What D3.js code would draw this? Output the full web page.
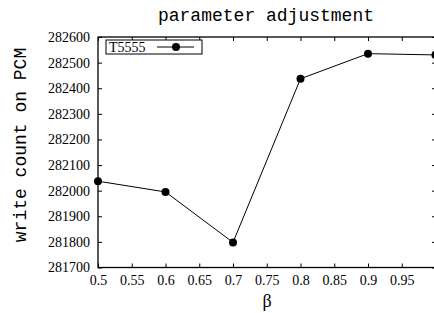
<!DOCTYPE html>
<html>
<head>
<meta charset="utf-8">
<script src="https://cdn.jsdelivr.net/npm/d3@7"></script>
<style>
  body { margin: 0; background: #fff; }
  svg { display: block; }
</style>
</head>
<body>
<svg id="chart" width="434" height="313"></svg>
<script>
// values
var betas = [0.5, 0.6, 0.7, 0.8, 0.9, 1.0];
var writes = [282037, 281995, 281798, 282437, 282535, 282530];
var xTicks = [0.5, 0.55, 0.6, 0.65, 0.7, 0.75, 0.8, 0.85, 0.9, 0.95];
var yTicks = [281700, 281800, 281900, 282000, 282100, 282200, 282300, 282400, 282500, 282600];
var seriesName = "T5555";

var plotL = 98, plotR = 436, plotT = 37, plotB = 267.5;

var svg = d3.select("#chart");

var x = d3.scaleLinear().domain([0.5, 1]).range([plotL, plotR - 0.5]);
var y = d3.scaleLinear().domain([281700, 282600]).range([plotB, plotT]);

var serif = "'Liberation Serif', 'Times New Roman', serif";
var mono = "'Liberation Mono', 'Courier New', monospace";

function styleAxis(g) {
    g.select(".domain").remove();
    g.selectAll("line").attr("stroke", "#000").attr("stroke-width", 1);
    g.selectAll("text").attr("fill", "#000").style("font-family", serif).style("font-size", "14px");
}

// ticks pointing inwards, gnuplot style
svg.append("g")
    .attr("transform", "translate(" + plotL + ",0)")
    .call(d3.axisLeft(y).tickValues(yTicks).tickSize(-4).tickPadding(8).tickFormat(d3.format("d")))
    .call(styleAxis);

svg.append("g")
    .attr("transform", "translate(0," + plotB + ")")
    .call(d3.axisBottom(x).tickValues(xTicks).tickSize(-4).tickPadding(8).tickFormat(function (d) { return String(d); }))
    .call(styleAxis);

// mirrored ticks
svg.append("g")
    .attr("transform", "translate(" + plotR + ",0)")
    .call(d3.axisRight(y).tickValues(yTicks).tickSize(-4).tickFormat(""))
    .call(styleAxis);

svg.append("g")
    .attr("transform", "translate(0," + plotT + ")")
    .call(d3.axisTop(x).tickValues(xTicks).tickSize(-4).tickFormat(""))
    .call(styleAxis);

svg.append("rect")
    .attr("x", plotL).attr("y", plotT)
    .attr("width", plotR - plotL).attr("height", plotB - plotT)
    .attr("fill", "none").attr("stroke", "#000").attr("stroke-width", 1.3);

var pts = betas.map(function (b, i) { return [b, writes[i]]; });

var line = d3.line()
    .x(function (d) { return x(d[0]); })
    .y(function (d) { return y(d[1]); });

svg.append("path")
    .datum(pts)
    .attr("d", line)
    .attr("fill", "none")
    .attr("stroke", "#000")
    .attr("stroke-width", 1);

svg.selectAll("circle.pt")
    .data(pts)
    .enter().append("circle")
    .attr("class", "pt")
    .attr("cx", function (d) { return x(d[0]); })
    .attr("cy", function (d) { return y(d[1]); })
    .attr("r", 4)
    .attr("fill", "#000");

// legend
var lg = svg.append("g");
lg.append("rect")
    .attr("x", 106).attr("y", 40).attr("width", 96).attr("height", 14)
    .attr("fill", "#fff").attr("stroke", "#000").attr("stroke-width", 1);
lg.append("text")
    .attr("x", 109).attr("y", 52)
    .style("font-family", serif).style("font-size", "14px")
    .text(seriesName);
lg.append("line")
    .attr("x1", 157).attr("x2", 194).attr("y1", 47).attr("y2", 47)
    .attr("stroke", "#000").attr("stroke-width", 1);
lg.append("circle")
    .attr("cx", 176).attr("cy", 47).attr("r", 4).attr("fill", "#000");

// titles
svg.append("text")
    .attr("x", 266).attr("y", 21)
    .attr("text-anchor", "middle")
    .style("font-family", mono).style("font-size", "18px")
    .text("parameter adjustment");

svg.append("text")
    .attr("transform", "translate(26,145) rotate(-90)")
    .attr("text-anchor", "middle")
    .style("font-family", mono).style("font-size", "18px")
    .text("write count on PCM");

svg.append("text")
    .attr("x", 267).attr("y", 307)
    .attr("text-anchor", "middle")
    .style("font-family", serif).style("font-size", "18px")
    .text("β");
</script>
</body>
</html>
